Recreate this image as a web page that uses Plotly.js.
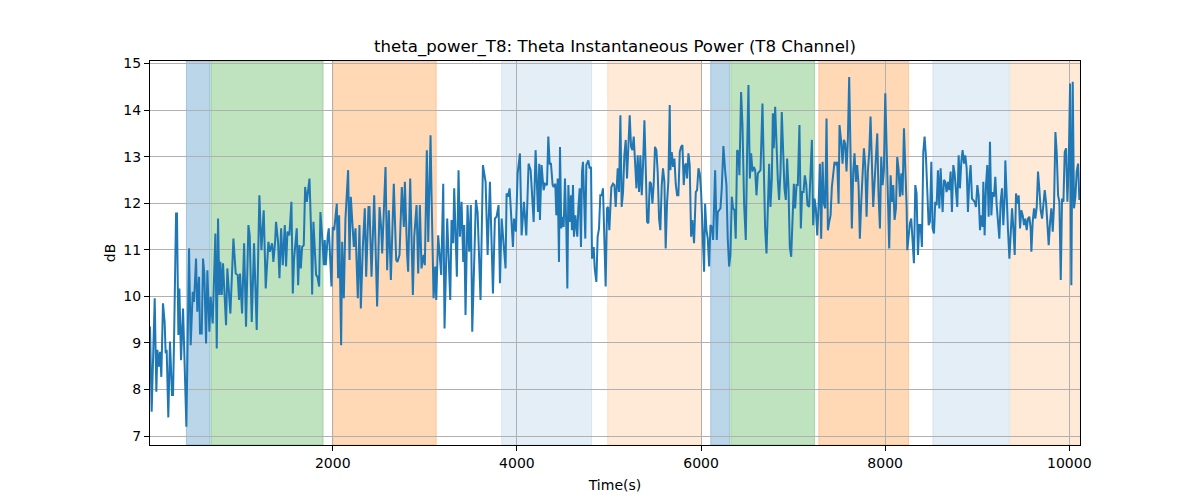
<!DOCTYPE html>
<html>
<head>
<meta charset="utf-8">
<script src="https://cdn.plot.ly/plotly-3.0.1.min.js"></script>
<style>html,body{margin:0;padding:0;background:#fff;}#chart{width:1200px;height:500px;}</style>
</head>
<body>
<div id="chart"></div>
<script>
// Sample times (s)
const timeSec = [
15,33,66,84,95,113,124,138,156,174,
185,196,214,232,254,265,276,298,308,323,
334,352,374,384,410,439,457,479,493,515,
529,548,558,577,591,605,624,638,660,674,
696,725,740,754,769,779,794,808,823,841,
855,870,888,921,935,946,968,982,993,1015,
1037,1058,1084,1098,1120,1145,1174,1203,1225,1250,
1272,1301,1316,1341,1355,1374,1384,1406,1421,
1439,1457,1479,1493,1508,1529,1551,1566,1580,1609,
1624,1638,1653,1667,1685,1700,1718,1747,1765,1776,
1790,1819,1834,1852,1866,1884,1903,1913,1924,1946,
1957,1986,2000,2015,2044,2058,2069,2091,2102,2120,
2138,2167,2182,2196,2229,2247,2272,2290,2305,2326,
2348,2363,2388,2399,2421,2450,2461,2482,2508,2526,
2537,2573,2591,2609,2631,2663,2689,2703,2725,2750,
2772,2783,2808,2819,2841,2870,
2885,2910,2928,2946,2964,2986,3000,3022,3037,3062,
3073,3095,3113,3124,3145,3178,3200,3214,3243,3276,
3290,3308,3319,3348,3366,3381,3399,3417,3428,3442,
3464,3482,3500,3515,3555,3573,3605,3631,3660,3682,
3707,3740,3761,3779,3801,3816,3834,3859,3877,3888,
3903,3921,3957,3968,3989,4008,4033,4051,4076,4102,
4127,4149,4182,4203,4229,4243,4250,4268,4290,4305,
4327,4341,4356,4370,4388,4399,4417,4428,4443,4457,
4468,4482,4497,4508,4522,4537,4548,4559,4573,4588,
4598,4609,4620,4635,4646,4656,4667,4682,4696,4707,
4718,4732,4743,4754,4765,4776,4790,4805,4816,4834,
4845,4863,4877,4892,4906,4921,4935,4950,4964,4979,
4990,5004,5015,5026,5044,5059,5073,5095,5109,5124,
5138,5153,5167,5182,5196,5211,5225,5240,5254,5269,
5283,5298,5312,5327,5341,5356,5370,5385,5399,5414,
5428,5443,5457,5472,5486,5500,5515,5529,5544,5558,
5573,5587,5602,5616,5631,5645,5660,5667,5682,5696,
5711,5725,5740,
5754,5769,5783,5798,5812,5827,5838,5848,5863,5877,
5892,5906,5924,5943,5957,5972,5986,6001,6015,6033,
6044,6059,6073,6088,6102,6117,6131,6153,6171,6182,
6196,6211,6225,6243,6261,6276,6290,6305,6319,6334,
6348,6363,6377,6392,6406,6417,6435,6450,6468,6486,
6501,6515,6530,6544,6559,6573,6588,6602,6617,6631,
6646,6667,6682,6696,6711,6725,6740,6754,6769,6780,
6790,6805,6819,6834,6848,6863,6877,6892,6906,6921,
6935,6950,6964,6979,6993,7008,7022,7037,7051,7069,
7084,7098,7113,7127,7142,7156,7174,
7189,7204,7218,7233,7247,7262,7276,7291,7305,7320,
7334,7349,7363,7378,7392,7407,7421,7436,7450,7465,
7479,7494,7504,7522,7537,7551,7566,7580,7595,7609,
7624,7638,7653,7667,7682,7696,7711,7725,7740,7754,
7769,7783,7798,7812,7827,7841,7856,7870,7885,7899,
7914,7928,7943,7957,7972,7986,8001,8015,8030,8044,
8059,8073,8088,8102,8117,8131,8146,8160,8175,8189,
8204,8218,8233,8240,8254,8269,8283,8298,8312,8327,
8341,8356,8370,8385,8399,8414,8428,8443,8457,8472,
8486,8501,8515,8530,8544,8559,8573,8588,8602,
8624,8638,8653,8667,8682,8696,8711,8725,8740,8754,
8769,8783,8798,8812,8827,8841,8856,8870,8885,8899,
8914,8928,8943,8957,8972,8986,9001,9015,9030,9044,
9059,9066,9080,9095,9109,9124,9138,9153,9167,9182,
9196,9211,9225,9240,9254,9269,9283,9298,9305,9320,
9334,9349,9363,9378,9392,9407,9421,9436,9450,9465,
9479,9494,9508,9522,9537,9551,9566,9580,9588,9602,
9617,9631,9646,9660,9675,9689,9704,9718,9733,9747,
9762,9776,9791,9805,9820,9834,9849,9863,9878,9892,
9907,9921,9936,9950,9965,9979,9993,10008,10022,10037,
10051,10066,10080,10095,10109
];

// Theta instantaneous power (dB)
const thetaPowerDb = [
9.35,7.52,9.96,7.95,8.85,8.49,8.81,8.27,9.85,9.45,
8.78,8.85,7.40,9.03,7.88,7.88,9.03,11.78,11.78,9.17,
10.17,8.63,9.74,9.10,7.20,11.03,8.95,10.10,9.88,10.81,
9.67,10.42,9.20,9.20,10.81,10.49,8.99,10.56,9.24,9.99,
9.42,11.35,8.88,11.67,10.03,10.74,10.03,10.71,10.03,9.38,
10.60,10.24,9.63,11.24,10.74,10.49,10.46,9.92,10.49,9.63,
11.14,9.35,11.53,11.31,9.45,11.14,9.28,12.17,10.99,11.85,
10.17,11.17,10.96,11.14,10.74,11.17,11.60,11.17,10.39,
11.46,10.67,11.53,10.64,11.39,11.31,12.03,10.06,10.81,11.46,
10.24,11.10,10.60,11.06,11.10,12.35,12.03,12.53,11.39,10.04,
11.60,10.46,10.42,10.21,11.81,11.31,10.67,11.21,10.67,11.31,
11.46,10.21,11.49,11.42,11.99,10.39,11.74,8.95,11.17,9.96,
11.67,12.71,10.78,12.14,11.06,11.46,9.96,11.53,9.74,11.03,
11.89,10.42,11.92,11.92,10.42,12.17,11.24,9.78,11.92,11.46,
10.92,12.78,10.56,11.85,10.35,12.42,10.78,10.74,10.89,12.35,
11.49,12.46,10.89,10.53,12.53,10.03,
11.28,11.96,10.49,11.96,10.60,10.89,10.67,13.14,11.17,13.46,
12.17,9.96,10.64,9.92,11.31,10.46,12.42,9.31,11.67,9.92,
11.64,11.14,12.32,10.42,12.71,11.28,12.03,10.74,11.53,9.60,
11.96,10.96,11.96,9.24,12.07,11.81,9.92,12.82,12.46,10.89,
12.46,10.06,11.67,11.71,11.96,10.28,11.67,11.03,10.60,12.21,
12.14,12.32,11.06,11.67,11.39,12.64,13.07,11.31,12.03,11.31,
12.85,12.71,11.60,13.14,11.81,12.85,11.64,12.82,12.28,12.42,
12.39,13.43,12.85,12.85,12.39,12.35,12.42,11.74,12.53,10.74,
13.21,11.46,11.71,11.49,12.53,11.46,10.17,12.39,11.60,12.17,
11.42,12.39,11.28,11.74,11.53,11.28,11.89,12.32,11.06,12.68,
12.89,12.03,11.24,12.82,12.89,12.92,12.75,12.78,10.81,11.06,
10.60,10.31,11.28,11.46,12.17,12.17,12.32,11.35,10.21,11.89,
11.92,11.42,11.96,12.35,12.42,12.39,11.92,12.75,12.24,13.89,
11.92,12.24,13.03,13.36,12.53,13.18,13.89,13.21,13.14,13.43,
12.82,12.32,13.03,12.24,13.03,12.17,12.82,13.78,12.78,11.60,
11.57,12.46,12.42,11.99,12.42,13.21,13.14,12.68,11.67,11.42,
12.39,12.75,12.46,11.03,12.03,12.46,14.11,12.71,13.10,12.78,
12.96,12.42,12.17,
12.17,13.10,13.21,13.25,12.39,12.82,12.85,12.53,13.07,12.82,
11.28,11.64,11.14,12.24,12.28,12.75,12.64,12.24,11.31,10.53,
11.99,11.42,11.24,10.64,11.53,11.49,11.21,12.71,11.21,11.81,
11.85,11.89,12.32,13.23,12.71,12.39,11.24,10.64,10.89,12.14,
11.89,11.85,11.24,13.14,13.10,12.60,14.39,13.68,11.96,11.21,
13.18,14.54,12.53,13.07,12.68,12.78,12.71,12.17,12.64,12.68,
12.71,14.14,12.32,11.46,10.92,12.03,12.85,11.92,12.53,13.93,
13.18,14.07,13.21,12.50,12.07,12.68,13.96,12.82,12.32,12.07,
12.96,12.32,11.06,10.85,11.74,12.42,11.89,12.39,12.39,13.68,
11.46,12.24,12.24,12.60,12.42,11.96,11.92,
12.53,13.36,11.53,12.10,11.89,11.31,11.92,12.85,11.24,12.89,
11.99,11.89,13.82,11.42,11.60,11.74,12.35,12.57,12.89,12.82,
12.89,11.99,13.68,13.32,12.85,13.36,13.28,12.68,13.39,14.71,
12.68,11.46,12.68,13.07,12.46,12.82,12.39,11.24,12.03,12.60,
13.18,12.82,11.71,12.68,13.10,13.86,12.89,11.92,12.46,13.03,
13.50,12.17,11.46,12.99,12.39,12.71,14.36,13.25,12.03,11.03,
12.60,12.03,12.39,11.64,11.89,12.99,12.71,12.14,12.64,12.17,
13.61,12.82,11.92,10.99,11.28,11.57,11.67,11.24,10.71,12.39,
12.21,10.89,11.53,11.53,11.06,13.10,13.43,12.99,12.32,11.53,
11.60,12.89,11.46,11.35,12.03,11.96,12.71,11.89,12.75,
11.81,12.50,12.46,12.24,12.46,12.28,12.68,11.81,12.82,12.64,
12.32,11.92,13.03,12.32,12.89,13.14,12.85,13.03,12.75,11.81,
12.50,12.82,12.10,12.07,12.03,11.92,12.39,12.17,11.42,11.74,
11.49,12.46,11.31,12.39,12.82,11.71,13.32,11.74,12.24,12.14,
12.57,11.96,11.53,11.24,12.03,12.32,11.53,12.14,12.92,11.89,
11.42,10.81,11.31,11.89,11.46,10.89,12.21,11.99,12.17,11.46,
11.85,11.74,11.53,11.67,11.42,11.67,11.71,11.46,10.96,11.60,
11.89,11.67,11.92,12.68,12.28,11.85,11.67,12.03,12.28,12.03,
11.39,11.10,11.60,11.89,11.39,11.96,13.53,13.10,12.17,12.03,
10.35,12.10,12.03,13.10,13.18,12.03,12.78,14.57,10.24,14.61,
11.89,12.14,12.68,12.85,12.07
];

// Shaded intervals (s) and their kind
const spanStart = [410, 678, 2000, 3834, 4986, 6105, 6323, 7279, 8518, 9363];
const spanEnd   = [667, 1895, 3124, 4812, 6004, 6309, 7232, 8254, 9348, 10120];
const spanKind  = ['blue', 'green', 'orange', 'lightblue', 'lightorange', 'blue', 'green', 'orange', 'lightblue', 'lightorange'];

const xTicks = [2000, 4000, 6000, 8000, 10000];
const yTicks = [7, 8, 9, 10, 11, 12, 13, 14, 15];

const kindColor = {
  blue: 'rgba(31,119,180,0.3)',
  green: 'rgba(44,160,44,0.3)',
  orange: 'rgba(255,127,14,0.3)',
  lightblue: 'rgba(31,119,180,0.12)',
  lightorange: 'rgba(255,127,14,0.16)'
};

const shapes = spanStart.map((s, i) => ({
  type: 'rect', xref: 'x', yref: 'paper',
  x0: s, x1: spanEnd[i], y0: 0, y1: 1,
  fillcolor: kindColor[spanKind[i]],
  line: {width: 1, color: kindColor[spanKind[i]]},
  layer: 'below'
}));

const font = {family: 'DejaVu Sans, sans-serif', color: '#000'};

const trace = {
  x: timeSec, y: thetaPowerDb, type: 'scatter', mode: 'lines',
  line: {color: '#1f77b4', width: 2},
  hoverinfo: 'x+y'
};

const layout = {
  width: 1200, height: 500,
  margin: {l: 150, r: 120, t: 61, b: 55, pad: 0},
  paper_bgcolor: '#fff', plot_bgcolor: '#fff',
  font: Object.assign({size: 14}, font),
  showlegend: false,
  title: {text: 'theta_power_T8: Theta Instantaneous Power (T8 Channel)',
          font: Object.assign({size: 16.6}, font),
          x: 0.5125, xanchor: 'center', y: 0.908, yanchor: 'middle', yref: 'container'},
  xaxis: {
    range: [15, 10116], tickvals: xTicks, ticktext: xTicks.map(String),
    showgrid: true, gridcolor: '#b0b0b0', gridwidth: 1,
    zeroline: false, showline: true, linecolor: '#000', linewidth: 1, mirror: true,
    ticks: 'outside', ticklen: 5, tickcolor: '#000', tickwidth: 1,
    tickfont: Object.assign({size: 14}, font),
    title: {text: 'Time(s)', font: Object.assign({size: 14}, font), standoff: 10},
    automargin: false
  },
  yaxis: {
    range: [6.807, 15.055], tickvals: yTicks, ticktext: yTicks.map(String),
    showgrid: true, gridcolor: '#b0b0b0', gridwidth: 1,
    zeroline: false, showline: true, linecolor: '#000', linewidth: 1, mirror: true,
    ticks: 'outside', ticklen: 5, tickcolor: '#000', tickwidth: 1,
    tickfont: Object.assign({size: 14}, font),
    title: {text: 'dB', font: Object.assign({size: 14}, font), standoff: 4},
    automargin: false
  },
  shapes: shapes
};

Plotly.newPlot('chart', [trace], layout, {displayModeBar: false, staticPlot: true});
</script>
</body>
</html>
